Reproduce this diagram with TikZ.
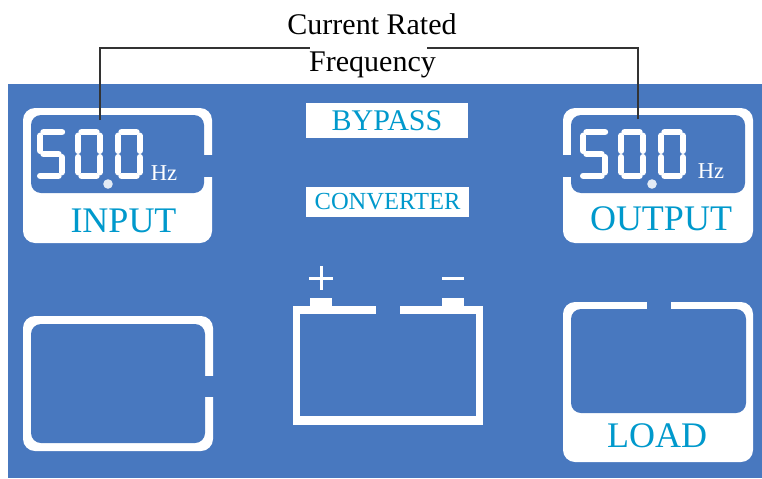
\documentclass[tikz,border=0pt]{standalone}
\usepackage{fontspec}
\setmainfont{Liberation Serif}
\definecolor{panelblue}{HTML}{4878BF}
\definecolor{labelcyan}{HTML}{0099CC}

% seven segment digits, local origin at top left
\newcommand{\segzero}[1]{%
	\begin{scope}[shift={#1}]
	\draw[seg] (6.5,3.2) -- (21.5,3.2);
	\draw[seg] (3.2,6.8) -- (3.2,21.8);
	\draw[seg] (24.8,6.8) -- (24.8,21.8);
	\draw[seg] (3.2,28.2) -- (3.2,43.2);
	\draw[seg] (24.8,28.2) -- (24.8,43.2);
	\draw[seg] (6.5,46.8) -- (21.5,46.8);
	\end{scope}}
\newcommand{\segfive}[1]{%
	\begin{scope}[shift={#1}]
	\draw[seg] (6.5,3.2) -- (25,3.2);
	\draw[seg] (3.2,6.8) -- (3.2,21.8);
	\draw[seg] (6.5,25) -- (21.5,25);
	\draw[seg] (24.8,28.2) -- (24.8,43.2);
	\draw[seg] (3.2,46.8) -- (21.5,46.8);
	\end{scope}}

\begin{document}
\begin{tikzpicture}[x=0.75pt,y=-0.75pt,
	seg/.style={white, line width=4.8pt, line cap=round},
	lead/.style={draw=black!80, line width=1pt},
	tag/.style={anchor=base, inner sep=0pt, text=labelcyan, font=\fontsize{27}{30}\selectfont},
	tagbox/.style={fill=white, inner sep=0pt, text=labelcyan},
	hz/.style={anchor=base, inner sep=0pt, text=white, font=\fontsize{17}{20}\selectfont}]
	\useasboundingbox (0,0) rectangle (762,478);
	\fill[panelblue] (8,84) rectangle (762,478);

	% input display
	\fill[white, rounded corners=9pt] (23,108) rectangle (212,243);
	\fill[panelblue, rounded corners=7.5pt] (31,115) rectangle (204,193);
	\fill[panelblue] (200,155) rectangle (213,177);
	\segfive{(37,129)}
	\segzero{(75,129)}
	\segzero{(115,129)}
	\fill[white!85!panelblue] (108,184) circle (3.6pt);
	\node[hz] (inhz) at (164,180) {Hz};
	\node[tag] (inlabel) at (123.5,232) {INPUT};

	% output display
	\fill[white, rounded corners=9pt] (563,108) rectangle (753,243);
	\fill[panelblue, rounded corners=7.5pt] (571,115) rectangle (745,193);
	\fill[panelblue] (562,155) rectangle (572,177);
	\segfive{(580,129)}
	\segzero{(618,129)}
	\segzero{(658,129)}
	\fill[white!85!panelblue] (652,184) circle (3.6pt);
	\node[hz] (outhz) at (711,178) {Hz};
	\node[tag] (outlabel) at (661,230) {OUTPUT};

	% mode tags
	\node[tagbox, minimum width=121.5pt, minimum height=26.25pt,
		font=\fontsize{22.5}{25}\selectfont] (bypass) at (387,120.5) {BYPASS};
	\node[tagbox, minimum width=122.25pt, minimum height=22.5pt,
		font=\fontsize{18.4}{21}\selectfont] (converter) at (387.5,202) {CONVERTER};

	% battery
	\fill[white] (293,306) rectangle (483,425);
	\fill[panelblue] (300,314) rectangle (476,416);
	\fill[panelblue] (376,305) rectangle (400,315);
	\fill[white] (310,298) rectangle (332,306);
	\fill[white] (442,298) rectangle (464,306);
	\draw[white, line width=2.25pt] (309,278) -- (333,278) (321,266) -- (321,290);
	\draw[white, line width=2.25pt] (442,278) -- (464,278);

	% empty box
	\fill[white, rounded corners=9pt] (23,316) rectangle (213,451);
	\fill[panelblue, rounded corners=7.5pt] (31,324) rectangle (205,443);
	\fill[panelblue] (203,376) rectangle (214,397);

	% load box
	\fill[white, rounded corners=9pt] (563,302) rectangle (753,462);
	\fill[panelblue, rounded corners=7.5pt] (571,309) rectangle (746,413);
	\fill[panelblue] (647,301) rectangle (671,310);
	\node[tag] (loadlabel) at (657,447) {LOAD};

	% frequency callout
	\node[anchor=base, inner sep=0pt, font=\fontsize{22.5}{25}\selectfont] (rated) at (372,35) {Current Rated};
	\node[anchor=base, inner sep=0pt, font=\fontsize{22.5}{25}\selectfont] (freq) at (372.5,71) {Frequency};
	\coordinate (inpick) at (100,120);
	\coordinate (outpick) at (638,119);
	\coordinate (bendL) at (310,48);
	\coordinate (bendR) at (427,48);
	\draw[lead] (inpick) |- (bendL);
	\draw[lead] (outpick) |- (bendR);
\end{tikzpicture}
\end{document}
